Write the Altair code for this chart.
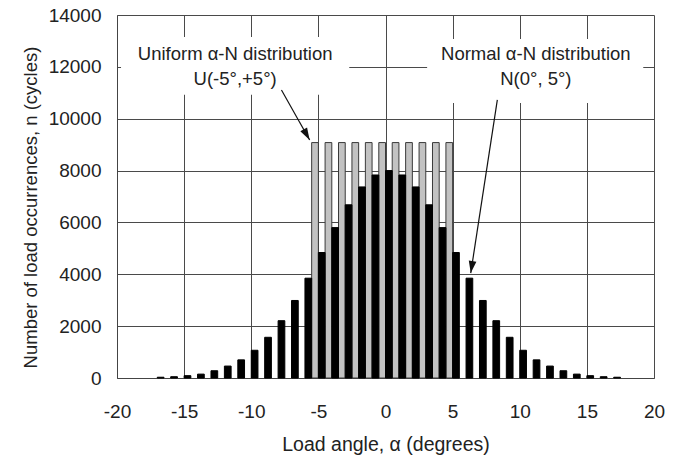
import math
import altair as alt
import pandas as pd

# ---- data ----
normal_angles = list(range(-17, 18))
normal_counts = [30, 50, 90, 150, 280, 460, 700, 1070, 1570, 2210, 2990, 3850,
                 4840, 5800, 6680, 7370, 7830, 8000, 7830, 7370, 6680, 5800,
                 4840, 3850, 2990, 2210, 1570, 1070, 700, 460, 280, 150, 90, 50, 30]
uniform_angles = [-5, -4, -3, -2, -1, 0, 1, 2, 3, 4, 5]
uniform_counts = [9080, 9080, 9080, 9080, 9080, 9080, 9080, 9080, 9080, 9080, 9080]

x_ticks = [-20, -15, -10, -5, 0, 5, 10, 15, 20]
y_ticks = [0, 2000, 4000, 6000, 8000, 10000, 12000, 14000]

# annotation (data coordinates)
label_lines = ["Uniform α-N distribution", "U(-5°,+5°)",
               "Normal α-N distribution", "N(0°, 5°)"]
label_x = [-11.2, -11.2, 11.2, 11.2]
label_y = [12266, 11283, 12266, 11300]
box_x = [-19.7, 3.1]
box_x2 = [-2.7, 19.2]
box_y = [10920, 10610]
box_y2 = [13150, 13075]
arrow_x = [-7.75, 8.33]
arrow_y = [11110, 10725]
arrow_x2 = [-5.65, 6.35]
arrow_y2 = [9180, 4046]

W, H = 537, 363
FONT = "Liberation Sans"

normal_df = pd.DataFrame({"angle": normal_angles, "count": normal_counts})
uniform_df = pd.DataFrame({"angle": uniform_angles, "count": uniform_counts})
text_df = pd.DataFrame({"t": label_lines, "x": label_x, "y": label_y})
box_df = pd.DataFrame({"x": box_x, "x2": box_x2, "y": box_y, "y2": box_y2})

angles = []
for xs, ys, xe, ye in zip(arrow_x, arrow_y, arrow_x2, arrow_y2):
    dx = (xe - xs) * W / 40.0
    dy = -(ye - ys) * H / 14000.0
    a = math.degrees(math.atan2(dx, -dy)) % 360
    angles.append(a)
arrow_df = pd.DataFrame({"x": arrow_x, "y": arrow_y, "x2": arrow_x2,
                         "y2": arrow_y2, "ang": angles})

xscale = alt.Scale(domain=[-20, 20], nice=False, zero=False)
yscale = alt.Scale(domain=[0, 14000], nice=False)

xaxis = alt.Axis(values=x_ticks, title="Load angle, α (degrees)", grid=True,
                 ticks=False, tickSize=0, labelPadding=24, labelFontSize=19,
                 titleFontSize=19.5, titleY=72, titleBaseline="alphabetic",
                 labelFlush=False, labelExpr="'' + datum.value")
yaxis = alt.Axis(values=y_ticks, title="Number of load occurrences, n (cycles)",
                 grid=True, ticks=False, tickSize=0, labelPadding=16,
                 labelFontSize=19, titleFontSize=18.5, titleX=-87, titleY=192,
                 titleAngle=-90, titleAlign="center", titleBaseline="middle",
                 labelFlush=False, labelExpr="'' + datum.value")

boxes = alt.Chart(box_df).mark_rect(fill="white", stroke=None).encode(
    x=alt.X("x:Q", scale=xscale, axis=xaxis),
    x2="x2:Q",
    y=alt.Y("y:Q", scale=yscale, axis=yaxis),
    y2="y2:Q",
)

gray = alt.Chart(uniform_df).transform_calculate(
    x0="datum.angle - 0.5", x1="datum.angle"
).mark_bar(fill="#c2c2c2", stroke="#3a3a3a", strokeWidth=1).encode(
    x=alt.X("x0:Q", scale=xscale),
    x2="x1:Q",
    y=alt.Y("count:Q", scale=yscale),
    y2=alt.datum(0),
)

black = alt.Chart(normal_df).transform_calculate(
    x0="datum.angle", x1="datum.angle + 0.5"
).mark_bar(fill="#000000", stroke="#000000", strokeWidth=1).encode(
    x=alt.X("x0:Q", scale=xscale),
    x2="x1:Q",
    y=alt.Y("count:Q", scale=yscale),
    y2=alt.datum(0),
)

lines = alt.Chart(arrow_df).mark_rule(color="#111111", strokeWidth=1.2).encode(
    x=alt.X("x:Q", scale=xscale), y=alt.Y("y:Q", scale=yscale),
    x2="x2:Q", y2="y2:Q",
)

heads = alt.Chart(arrow_df).mark_point(
    shape="M0,0L0.7,2.2L-0.7,2.2Z", filled=True, fill="#111111",
    stroke=None, size=121, opacity=1,
).encode(
    x=alt.X("x2:Q", scale=xscale), y=alt.Y("y2:Q", scale=yscale),
    angle=alt.Angle("ang:Q", scale=None),
)

texts = alt.Chart(text_df).mark_text(
    font=FONT, fontSize=18.5, color="#222222", align="center",
    baseline="alphabetic",
).encode(
    x=alt.X("x:Q", scale=xscale), y=alt.Y("y:Q", scale=yscale), text="t:N",
)

chart = alt.layer(boxes, gray, black, lines, heads, texts).properties(
    width=W, height=H,
    autosize=alt.AutoSizeParams(type="none"),
    padding={"left": 117, "top": 15, "right": 31, "bottom": 84},
    background="white",
).configure_view(stroke=None).configure_axis(
    gridColor="#4a4a4a", gridWidth=1, gridOpacity=1,
    domainColor="#444444", domainWidth=1,
    labelFont=FONT, titleFont=FONT, labelColor="#222222", titleColor="#222222",
    titleFontWeight="normal",
)

chart.save("out.html", embed_options={"renderer": "svg", "actions": False})
